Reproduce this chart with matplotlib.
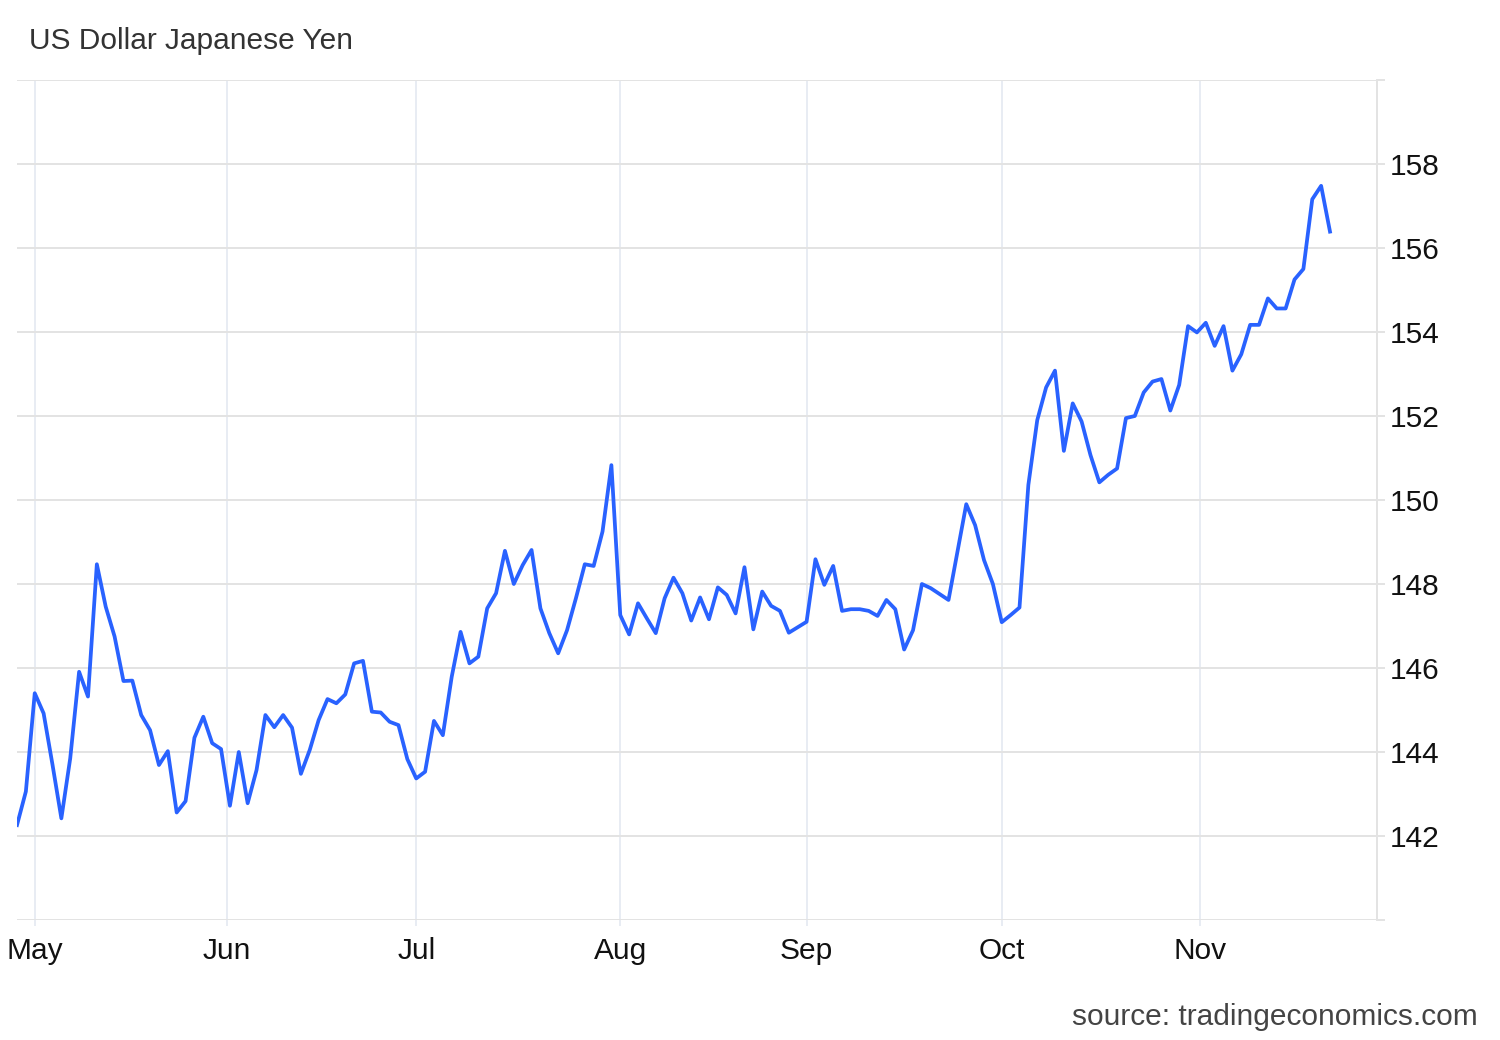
import matplotlib
matplotlib.use("Agg")

import matplotlib.pyplot as plt
import numpy as np
import pandas as pd

plt.rcParams['font.family'] = ['Liberation Sans', 'DejaVu Sans']

# USD/JPY daily closes, trading days only
start_date = "2025-04-29"
end_date = "2025-11-21"
usdjpy = [
    142.26, 143.06, 145.40, 144.92, 143.70, 142.42, 143.85, 145.91, 145.32, 148.47,
    147.46, 146.75, 145.69, 145.70, 144.88, 144.52, 143.69, 144.02, 142.56, 142.83,
    144.34, 144.84, 144.21, 144.07, 142.72, 144.00, 142.78, 143.57, 144.88, 144.59,
    144.88, 144.58, 143.48, 144.05, 144.76, 145.26, 145.16, 145.37, 146.11, 146.17,
    144.96, 144.94, 144.72, 144.64, 143.83, 143.37, 143.53, 144.74, 144.40, 145.79,
    146.86, 146.11, 146.27, 147.42, 147.78, 148.79, 148.00, 148.45, 148.81, 147.42,
    146.83, 146.35, 146.90, 147.66, 148.47, 148.43, 149.25, 150.83, 147.26, 146.80,
    147.54, 147.18, 146.83, 147.66, 148.15, 147.78, 147.13, 147.68, 147.16, 147.92,
    147.74, 147.30, 148.40, 146.92, 147.82, 147.48, 147.36, 146.84, 146.97, 147.10,
    148.59, 147.98, 148.43, 147.36, 147.40, 147.40, 147.36, 147.24, 147.62, 147.40,
    146.44, 146.90, 148.00, 147.90, 147.76, 147.62, 148.76, 149.90, 149.40, 148.57,
    148.00, 147.09, 147.26, 147.44, 150.36, 151.90, 152.68, 153.08, 151.17, 152.30,
    151.87, 151.07, 150.42, 150.60, 150.75, 151.95, 152.00, 152.56, 152.82, 152.88,
    152.13, 152.74, 154.14, 153.99, 154.22, 153.67, 154.14, 153.08, 153.47, 154.17,
    154.17, 154.80, 154.56, 154.56, 155.25, 155.50, 157.16, 157.48, 156.39,
]
month_starts = ["2025-05-01", "2025-06-01", "2025-07-01", "2025-08-01",
                "2025-09-01", "2025-10-01", "2025-11-01"]
month_labels = ["May", "Jun", "Jul", "Aug", "Sep", "Oct", "Nov"]
y_ticks = list(range(140, 161, 2))

dates = pd.bdate_range(start_date, end_date)
idx = np.arange(len(dates))
# month ticks placed between trading days, by calendar position
day_num = dates.values.astype("datetime64[D]").astype(float)
tick_days = np.array(month_starts, dtype="datetime64[D]").astype(float)
tick_pos = np.interp(tick_days, day_num, idx)

W, H = 1500, 1040
fig = plt.figure(figsize=(W / 100, H / 100), dpi=100)
ax = fig.add_axes([17 / W, 1 - 920 / H, (1377 - 17) / W, (920 - 80) / H])

ax.plot(idx, usdjpy, color="#2962ff", linewidth=2.7, solid_joinstyle="round", zorder=3)

ax.set_xlim(0, (1377 - 17) / ((1330 - 17) / (len(dates) - 1)))
ax.set_ylim(140, 160)

ax.set_yticks(y_ticks)
ax.set_yticklabels(["" if v in (140, 160) else str(v) for v in y_ticks])
ax.yaxis.tick_right()
ax.set_xticks(tick_pos)
ax.set_xticklabels(month_labels)

ax.grid(axis="y", color="#e3e3e3", linewidth=1.4)
ax.grid(axis="x", color="#e8ecf3", linewidth=1.4)
ax.set_axisbelow(True)
ax.tick_params(axis="y", length=6, width=1.4, color="#e3e3e3", pad=3,
               labelsize=21.5, labelcolor="#111111")
ax.tick_params(axis="x", length=4, width=1.4, color="#e8ecf3", pad=8,
               labelsize=21.5, labelcolor="#111111")

for side in ("left", "top", "bottom"):
    ax.spines[side].set_visible(False)
ax.spines["right"].set_color("#e3e3e3")
ax.spines["right"].set_linewidth(1.4)

fig.text(29 / W, 1 - 41 / H, "US Dollar Japanese Yen", fontsize=21.5,
         color="#333333", va="center", ha="left")
fig.text(1478 / W, 1 - 1017 / H, "source: tradingeconomics.com", fontsize=21.5,
         color="#444444", va="center", ha="right")

fig.savefig("out.png", dpi=100, facecolor="white")
